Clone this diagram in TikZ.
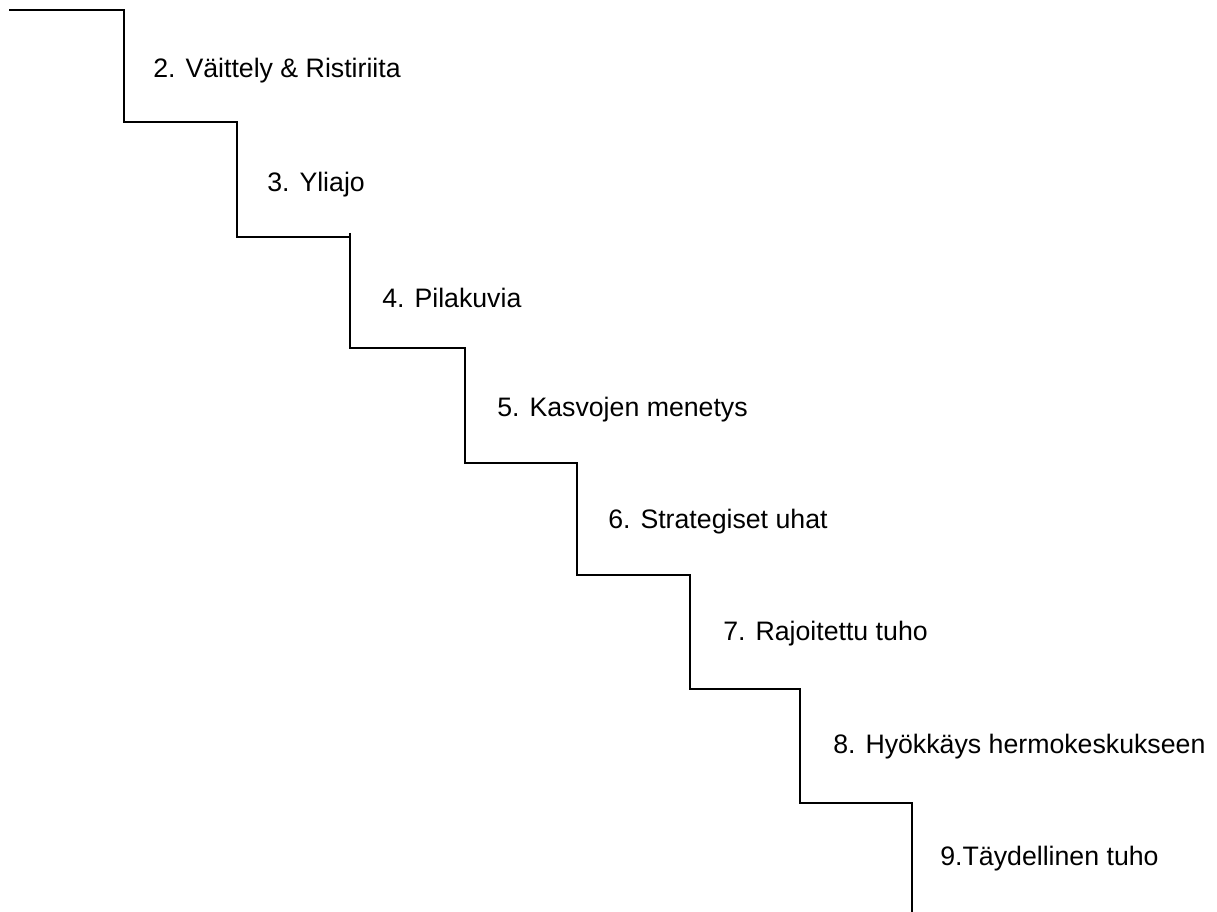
\documentclass[tikz,border=0pt]{standalone}
\usepackage{fontspec}
\setmainfont{Liberation Sans}
\usepackage{tikz}
\usetikzlibrary{positioning}

\begin{document}
\begin{tikzpicture}[x=0.02cm,y=-0.02cm]

\tikzset{
  stairline/.style={black, line width=1.6pt, line join=miter},
  steplabel/.style={anchor=base west, inner sep=0pt,
                  font=\fontsize{15.2}{18}\selectfont}
}

\useasboundingbox (0,0) rectangle (1217,912);

% Staircase
\draw[stairline] (9,10) -- (124,10) -- (124,122) -- (237,122) -- (237,237)
  -- (350,237) -- (350,348) -- (465,348) -- (465,463) -- (577,463)
  -- (577,575) -- (690,575) -- (690,689) -- (800,689) -- (800,803)
  -- (912,803) -- (912,912);
\draw[stairline] (350,233) -- (350,237);

% Step labels
\node[steplabel] (vaittely) at (153, 78)  {2. Väittely \& Ristiriita};
\node[steplabel] (yliajo)   at (267,192)  {3. Yliajo};
\node[steplabel] (pila)     at (382,307)  {4. Pilakuvia};
\node[steplabel] (kasvot)   at (497,416)  {5. Kasvojen menetys};
\node[steplabel] (uhat)     at (608,528)  {6. Strategiset uhat};
\node[steplabel] (rajoit)   at (723,640)  {7. Rajoitettu tuho};
\node[steplabel] (hyokkays) at (833,753)  {8. Hyökkäys hermokeskukseen};
\node[steplabel] (tuho)     at (940,865)  {9.Täydellinen tuho};

\end{tikzpicture}
\end{document}
